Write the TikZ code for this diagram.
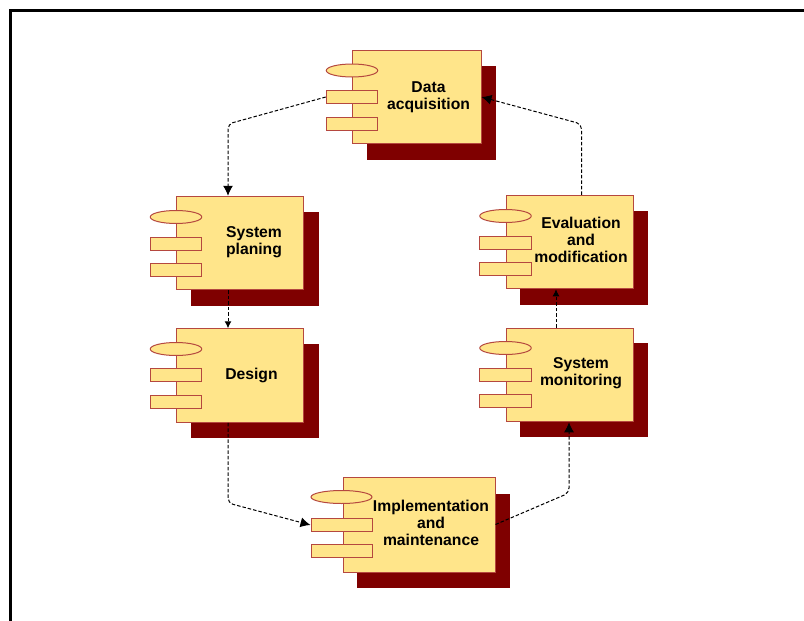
\documentclass[tikz,border=0pt]{standalone}
\usepackage{fontspec}
\setmainfont{Liberation Sans}
\usetikzlibrary{shapes.geometric,arrows.meta}
\definecolor{boxfill}{HTML}{FFE58A}
\definecolor{boxline}{HTML}{B5483F}
\definecolor{boxshadow}{HTML}{7F0000}
\tikzset{
	boxshadow/.style={fill=boxshadow,inner sep=0,minimum height=94pt},
	body/.style={draw=boxline,fill=boxfill,line width=1pt,inner sep=0,minimum height=93.5pt},
	oval/.style={ellipse,draw=boxline,fill=boxfill,line width=1pt,inner sep=0,minimum width=51.5pt,minimum height=13pt},
	port/.style={rectangle,draw=boxline,fill=boxfill,line width=1pt,inner sep=0,minimum width=51.5pt,minimum height=13pt},
	caption/.style={align=center,font=\fontsize{15.7}{17}\selectfont\bfseries},
	link/.style={->,>={Latex[length=10pt,width=10pt]},line width=1pt,dash pattern=on 3.5pt off 2pt,rounded corners=5pt},
	shortlink/.style={link,>={Latex[length=7pt,width=7pt]}}
}
\begin{document}
\begin{tikzpicture}[x=1pt,y=-1pt]
	\useasboundingbox (0,0) rectangle (804,621);
	%frame
	\draw[line width=2.3pt] (10.4,621)--(10.4,10.4)--(804,10.4);
	
	%data acquisition
	\node[boxshadow,minimum width=129pt] (datashadow) at (431.5,113) {};
	\node[body,minimum width=129pt] (data) at (416.5,97) {};
	\node[oval] (dataoval) at (352,70.5) {};
	\node[port] (dataporta) at (352,97) {};
	\node[port] (dataportb) at (352,123.5) {};
	\node[caption] (datatext) at (428.5,97) {Data\\acquisition};
	
	%system planing
	\node[boxshadow,minimum width=128pt] (planshadow) at (255,258.5) {};
	\node[body,minimum width=127pt] (plan) at (240.2,243) {};
	\node[oval] (planoval) at (176,217) {};
	\node[port] (planporta) at (176,243.5) {};
	\node[port] (planportb) at (176,269.5) {};
	\node[caption] (plantext) at (254,242.5) {System\\planing};
	
	%design
	\node[boxshadow,minimum width=128pt] (designshadow) at (255,391) {};
	\node[body,minimum width=127pt] (design) at (240.2,375.5) {};
	\node[oval] (designoval) at (176,349) {};
	\node[port] (designporta) at (176,375) {};
	\node[port] (designportb) at (176,401.5) {};
	\node[caption] (designtext) at (251.5,375) {Design};
	
	%evaluation and modification
	\node[boxshadow,minimum width=128pt] (evalshadow) at (584,258) {};
	\node[body,minimum width=127pt] (eval) at (569.5,242) {};
	\node[oval] (evaloval) at (505.5,216) {};
	\node[port] (evalporta) at (505.5,242.5) {};
	\node[port] (evalportb) at (505.5,268.5) {};
	\node[caption] (evaltext) at (581,240) {Evaluation\\and\\modification};
	
	%system monitoring
	\node[boxshadow,minimum width=128pt] (monitorshadow) at (584,390) {};
	\node[body,minimum width=127pt] (monitor) at (569.5,375) {};
	\node[oval] (monitoroval) at (505.5,348) {};
	\node[port] (monitorporta) at (505.5,374.5) {};
	\node[port] (monitorportb) at (505.5,400.5) {};
	\node[caption] (monitortext) at (581,373.5) {System\\monitoring};
	
	%implementation and maintenance
	\node[boxshadow,minimum width=153pt] (implshadow) at (433.5,540.5) {};
	\node[body,minimum width=152pt,minimum height=95pt] (impl) at (419,524.5) {};
	\node[oval,minimum width=61pt] (imploval) at (341.5,497) {};
	\node[port,minimum width=61pt] (implporta) at (341.5,525) {};
	\node[port,minimum width=61pt] (implportb) at (341.5,551) {};
	\node[caption] (impltext) at (431,523) {Implementation\\and\\maintenance};
	
	%bend points
	\coordinate (bendplan) at (228,124);
	\coordinate (benddesign) at (228,503);
	\coordinate (bendmonitor) at (569,493);
	\coordinate (bendeval) at (581.5,124);
	\coordinate (riseeval) at (556,300);
	
	%links
	\draw[link] (dataporta.west)--(bendplan)--(bendplan |- plan.north);
	\draw[shortlink] (bendplan |- plan.south)--(bendplan |- design.north);
	\draw[link] (benddesign |- design.south)--(benddesign)--(implporta.west);
	\draw[link] (impl.east)--(bendmonitor)--(bendmonitor |- monitor.south);
	\draw[shortlink] (riseeval |- monitor.north)--(riseeval |- eval.south);
	\draw[link] (bendeval |- eval.north)--(bendeval)--(data.east);
\end{tikzpicture}
\end{document}
